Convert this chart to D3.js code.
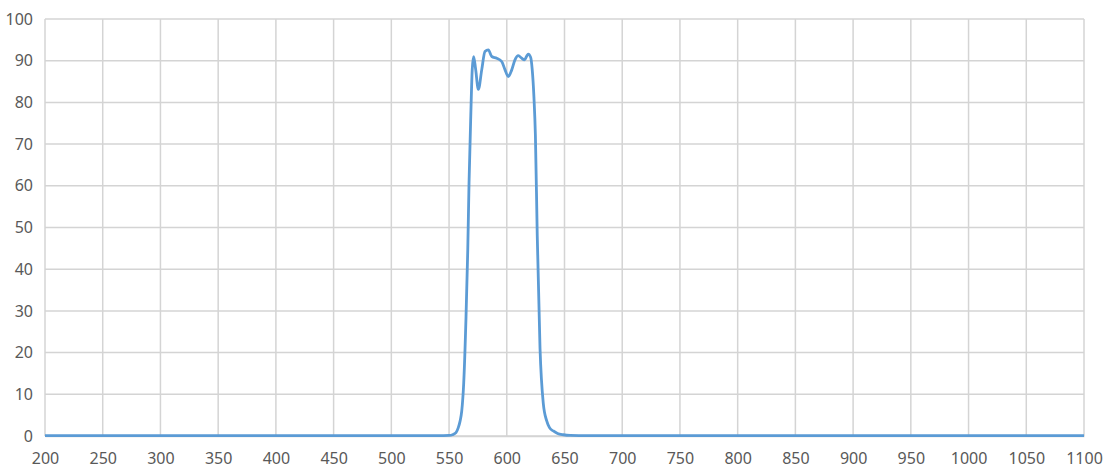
<!DOCTYPE html>
<html>
<head>
<meta charset="utf-8">
<script src="https://cdn.jsdelivr.net/npm/d3@7"></script>
<style>
  body { margin: 0; background: #fff; }
  .tick text { font-family: "Noto Sans", "DejaVu Sans", sans-serif; font-size: 16px; fill: #595959; }
</style>
</head>
<body>
<div id="chart"></div>
<script>
// wavelength (nm) and transmission (%)
var wavelength = [200, 300, 400, 500, 540, 550, 553, 556, 558, 559.5, 561, 562.7, 564.7, 566.2, 567.3,
  568.8, 570.1, 571.3, 573, 575.4, 578.3, 581.1, 584, 587, 591.3, 595.6, 598.5, 601.3, 604.3,
  607.1, 610, 612.9, 615.2, 618.6, 620.7, 622, 623.5, 624.8, 626.4, 628.8, 631.6, 634.6,
  637, 640.3, 644, 649, 655, 670, 700, 800, 900, 1000, 1100];
var transmission = [0.1, 0.1, 0.1, 0.1, 0.1, 0.15, 0.3, 0.8, 2, 3.5, 6, 12.7, 28.6, 44.6, 60.6,
  76.6, 88, 91, 88, 83.1, 87.8, 92.2, 92.6, 91, 90.6, 89.8, 87.8, 86.2, 87.8,
  90.2, 91.2, 90.6, 90.2, 91.6, 90.8, 88, 81.4, 72, 48, 21, 7.9, 3.6,
  2, 1.2, 0.6, 0.3, 0.15, 0.1, 0.1, 0.1, 0.1, 0.1, 0.1];
var xTicks = d3.range(200, 1101, 50);
var yTicks = d3.range(0, 101, 10);

var w = 1106, h = 470,
  mLeft = 45, mRight = 1084, mTop = 19, mBottom = 436;

var x = d3.scaleLinear().domain([200, 1100]).range([mLeft, mRight]),
  y = d3.scaleLinear().domain([0, 100]).range([mBottom, mTop]);

var svg = d3.select("#chart").append("svg")
  .attr("width", w)
  .attr("height", h);

// gridlines
svg.append("g")
  .selectAll("line")
  .data(xTicks)
  .enter().append("line")
  .attr("x1", function(d) { return x(d); })
  .attr("x2", function(d) { return x(d); })
  .attr("y1", mTop)
  .attr("y2", mBottom)
  .attr("stroke", "#d4d4d4")
  .attr("stroke-width", 1.5);

svg.append("g")
  .selectAll("line")
  .data(yTicks)
  .enter().append("line")
  .attr("x1", mLeft)
  .attr("x2", mRight)
  .attr("y1", function(d) { return y(d); })
  .attr("y2", function(d) { return y(d); })
  .attr("stroke", "#d4d4d4")
  .attr("stroke-width", 1.5);

var xAxis = d3.axisBottom(x).tickValues(xTicks).tickFormat(d3.format("d")).tickSize(0).tickPadding(17);
var yAxis = d3.axisLeft(y).tickValues(yTicks).tickFormat(d3.format("d")).tickSize(0).tickPadding(12);

svg.append("g")
  .attr("transform", "translate(0," + mBottom + ")")
  .call(xAxis)
  .call(function(g) { g.select(".domain").attr("stroke", "#d4d4d4").attr("stroke-width", 1.5); });

svg.append("g")
  .attr("transform", "translate(" + mLeft + ",0)")
  .call(yAxis)
  .call(function(g) { g.select(".domain").remove(); });

var data = wavelength.map(function(d, i) { return [d, transmission[i]]; });

var line = d3.line()
  .x(function(d) { return x(d[0]); })
  .y(function(d) { return y(d[1]); })
  .curve(d3.curveMonotoneX);

svg.append("path")
  .datum(data)
  .attr("d", line)
  .attr("fill", "none")
  .attr("stroke", "#5b9bd5")
  .attr("stroke-width", 2.8)
  .attr("stroke-linejoin", "round");
</script>
</body>
</html>
